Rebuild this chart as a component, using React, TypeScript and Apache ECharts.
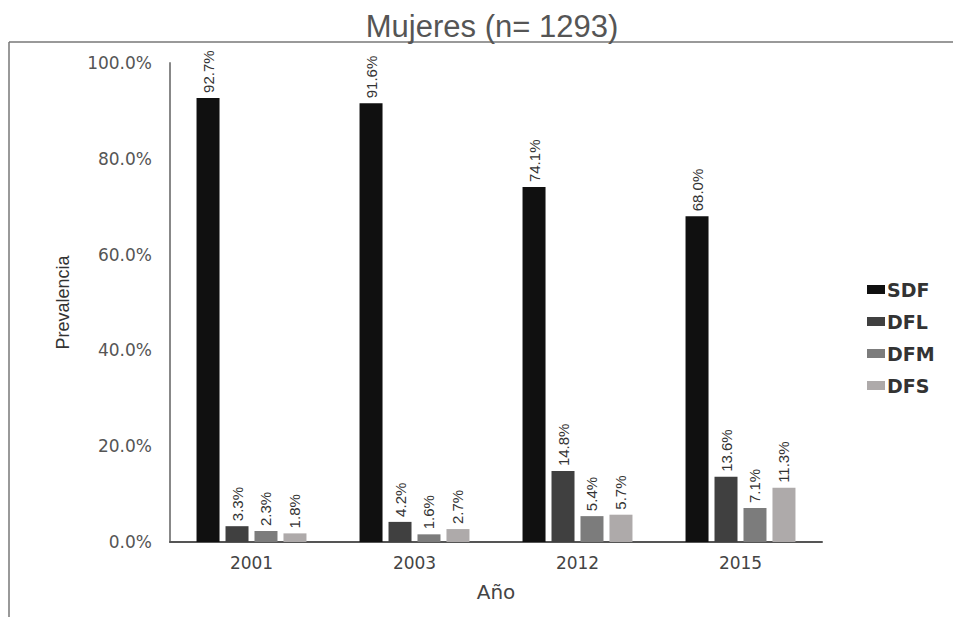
import React, { useEffect, useRef } from "react";
import * as echarts from "echarts";

const years = ["2001", "2003", "2012", "2015"];
const seriesNames = ["SDF", "DFL", "DFM", "DFS"];
const sdf = [92.7, 91.6, 74.1, 68.0];
const dfl = [3.3, 4.2, 14.8, 13.6];
const dfm = [2.3, 1.6, 5.4, 7.1];
const dfs = [1.8, 2.7, 5.7, 11.3];
const colors = ["#101010", "#404040", "#7c7c7c", "#aeaaaa"];

export default function App() {
  const ref = useRef<HTMLDivElement>(null);
  useEffect(() => {
    if (!ref.current) return;
    const chart = echarts.init(ref.current, null, { renderer: "svg" });
    const data = [sdf, dfl, dfm, dfs];
    chart.setOption({
      animation: false,
      title: {
        text: "Mujeres (n= 1293)",
        left: 487,
        top: 6,
        textAlign: "center",
        textStyle: {
          fontFamily: "Liberation Sans, Arial, sans-serif",
          fontSize: 31,
          fontWeight: "normal",
          color: "#555",
        },
      },
      legend: {
        orient: "vertical",
        left: 862,
        top: 275,
        itemWidth: 18,
        itemHeight: 9,
        itemGap: 13,
        icon: "rect",
        data: seriesNames,
        textStyle: {
          fontFamily: "DejaVu Sans, sans-serif",
          fontSize: 19,
          fontWeight: "bold",
          color: "#333",
          padding: [0, 0, 0, -3],
        },
      },
      graphic: [
        {
          type: "line",
          shape: { x1: 9, y1: 42, x2: 953, y2: 42 },
          style: { stroke: "#777", lineWidth: 1.5 },
        },
        {
          type: "line",
          shape: { x1: 9, y1: 42, x2: 9, y2: 617 },
          style: { stroke: "#777", lineWidth: 1.5 },
        },
      ],
      grid: { left: 170, right: 131, top: 63, bottom: 75 },
      xAxis: {
        type: "category",
        data: years,
        name: "Año",
        nameLocation: "middle",
        nameGap: 40,
        nameTextStyle: {
          fontFamily: "DejaVu Sans, sans-serif",
          fontSize: 20,
          color: "#444",
        },
        axisLine: { show: true, lineStyle: { color: "#555", width: 2 } },
        axisTick: { show: false },
        axisLabel: {
          margin: 12,
          fontFamily: "DejaVu Sans, sans-serif",
          fontSize: 17,
          color: "#444",
        },
      },
      yAxis: {
        type: "value",
        min: 0,
        max: 100,
        interval: 20,
        name: "Prevalencia",
        nameLocation: "middle",
        nameRotate: 90,
        nameGap: 98,
        nameTextStyle: {
          fontFamily: "Liberation Sans, Arial, sans-serif",
          fontSize: 18,
          color: "#333",
        },
        axisLine: { show: true, lineStyle: { color: "#888", width: 2 } },
        axisTick: { show: false },
        splitLine: { show: false },
        axisLabel: {
          margin: 18,
          fontFamily: "DejaVu Sans, sans-serif",
          fontSize: 17,
          color: "#555",
          formatter: (v: number) => v.toFixed(1) + "%",
        },
      },
      series: seriesNames.map((name, i) => ({
        name,
        type: "bar",
        data: data[i],
        barWidth: 23,
        barGap: "26%",
        itemStyle: { color: colors[i] },
        label: {
          show: true,
          position: "top",
          rotate: 90,
          align: "left",
          verticalAlign: "middle",
          distance: 5,
          fontFamily: "Liberation Sans, Arial, sans-serif",
          fontSize: 15,
          color: "#333",
          formatter: (p: any) => Number(p.value).toFixed(1) + "%",
        },
      })),
    });
    return () => chart.dispose();
  }, []);
  return (
    <div
      ref={ref}
      style={{ position: "fixed", left: 0, top: 0, width: 953, height: 617, background: "#fff" }}
    />
  );
}
